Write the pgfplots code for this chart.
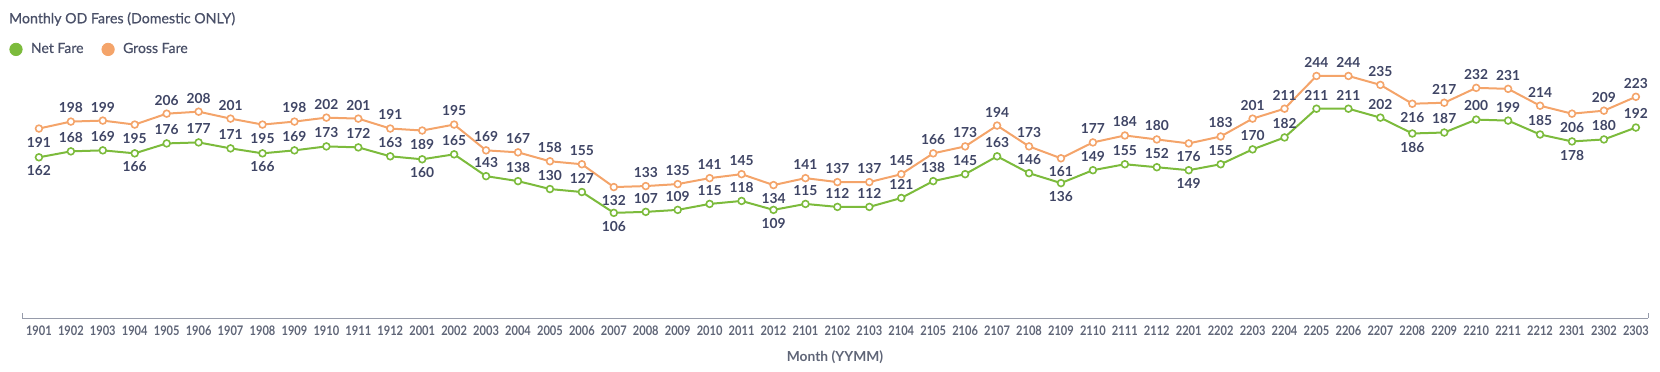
\documentclass[border=0pt]{standalone}
\usepackage{fontspec}
\setmainfont{Lato}
\newfontfamily\tickfont[FakeStretch=0.84]{Lato}
\newfontfamily\medfont[FakeBold=0.6]{Lato}
\usepackage{pgfplots}
\usepackage{pgfplotstable}
\pgfplotsset{compat=1.18}
\definecolor{netc}{RGB}{124,187,60}
\definecolor{grossc}{RGB}{244,164,106}
\definecolor{labc}{RGB}{63,69,101}
\definecolor{axc}{RGB}{150,155,170}
\definecolor{tickc}{RGB}{95,101,119}
\definecolor{titc}{RGB}{74,80,104}
\pgfplotstableread{
x g n p
0 191 162 -1
1 198 168 1
2 199 169 1
3 195 166 -1
4 206 176 1
5 208 177 1
6 201 171 1
7 195 166 -1
8 198 169 1
9 202 173 1
10 201 172 1
11 191 163 1
12 189 160 -1
13 195 165 1
14 169 143 1
15 167 138 1
16 158 130 1
17 155 127 1
18 132 106 -1
19 133 107 1
20 135 109 1
21 141 115 1
22 145 118 1
23 134 109 -1
24 141 115 1
25 137 112 1
26 137 112 1
27 145 121 1
28 166 138 1
29 173 145 1
30 194 163 1
31 173 146 1
32 161 136 -1
33 177 149 1
34 184 155 1
35 180 152 1
36 176 149 -1
37 183 155 1
38 201 170 1
39 211 182 1
40 244 211 1
41 244 211 1
42 235 202 1
43 216 186 -1
44 217 187 1
45 232 200 1
46 231 199 1
47 214 185 1
48 206 178 -1
49 209 180 1
50 223 192 1
}\data
\begin{document}
\begin{tikzpicture}
\useasboundingbox (0,0) rectangle (830pt,185.5pt);
\begin{axis}[
  at={(11pt,26.5pt)}, anchor=south west,
  scale only axis, width=813pt, height=124pt,
  xmin=-0.53, xmax=50.38, ymin=0, ymax=250,
  axis x line=bottom, axis y line=none,
  axis line style={-, draw=axc, line width=0.5pt},
  xtick=data, major tick length=0pt,
  xticklabels={1901,1902,1903,1904,1905,1906,1907,1908,1909,1910,1911,1912,2001,2002,2003,2004,2005,2006,2007,2008,2009,2010,2011,2012,2101,2102,2103,2104,2105,2106,2107,2108,2109,2110,2111,2112,2201,2202,2203,2204,2205,2206,2207,2208,2209,2210,2211,2212,2301,2302,2303},
  xticklabel style={font=\tickfont\bfseries\fontsize{6.6}{7}\selectfont, text=tickc, inner sep=1pt, yshift=-2.5pt},
  xlabel={Month (YYMM)},
  xlabel style={font=\bfseries\fontsize{6.9}{8}\selectfont, text=tickc, yshift=-3pt},
  clip=false,
  /pgf/number format/assume math mode=true,
  legend style={at={(axis description cs:-0.008,1.083)}, anchor=west, draw=none, fill=none, inner sep=0pt,
     font=\medfont\fontsize{7}{8}\selectfont, text=titc, legend columns=2,
     /tikz/every odd column/.append style={column sep=2.2pt},
     /tikz/every even column/.append style={column sep=7pt}},
  legend cell align=left,
]
\addplot[netc, line width=1pt, mark=*, mark size=1.7pt, mark options={fill=white, draw=netc, line width=0.8pt},
  forget plot,
  nodes near coords, point meta=explicit,
  visualization depends on={\thisrow{p} \as \lp},
  every node near coord/.append style={anchor=center, yshift=\lp*6.8pt, font=\bfseries\fontsize{6.9}{7}\selectfont, text=labc, inner sep=0pt}]
  table[x=x, y=n, meta=n] {\data};
\addplot[grossc, line width=1pt, mark=*, mark size=1.7pt, mark options={fill=white, draw=grossc, line width=0.8pt},
  forget plot,
  nodes near coords, point meta=explicit,
  visualization depends on={\thisrow{p} \as \lp},
  every node near coord/.append style={anchor=center, yshift=\lp*6.8pt, font=\bfseries\fontsize{6.9}{7}\selectfont, text=labc, inner sep=0pt}]
  table[x=x, y=g, meta=g] {\data};
\addlegendimage{legend image code/.code={\fill[netc] (0.12cm,0cm) circle (3.1pt);}}
\addlegendentry{Net Fare}
\addlegendimage{legend image code/.code={\fill[grossc] (0.12cm,0cm) circle (3.1pt);}}
\addlegendentry{Gross Fare}
\draw[axc, line width=0.5pt] (rel axis cs:0,0) -- ([yshift=2.5pt]rel axis cs:0,0);
\draw[axc, line width=0.5pt] (rel axis cs:1,0) -- ([yshift=2.5pt]rel axis cs:1,0);
\end{axis}
\node[anchor=west, inner sep=0pt, text=titc, font=\medfont\fontsize{7.1}{8}\selectfont] at (4.3pt,176pt) {Monthly OD Fares (Domestic ONLY)};
\end{tikzpicture}
\end{document}
